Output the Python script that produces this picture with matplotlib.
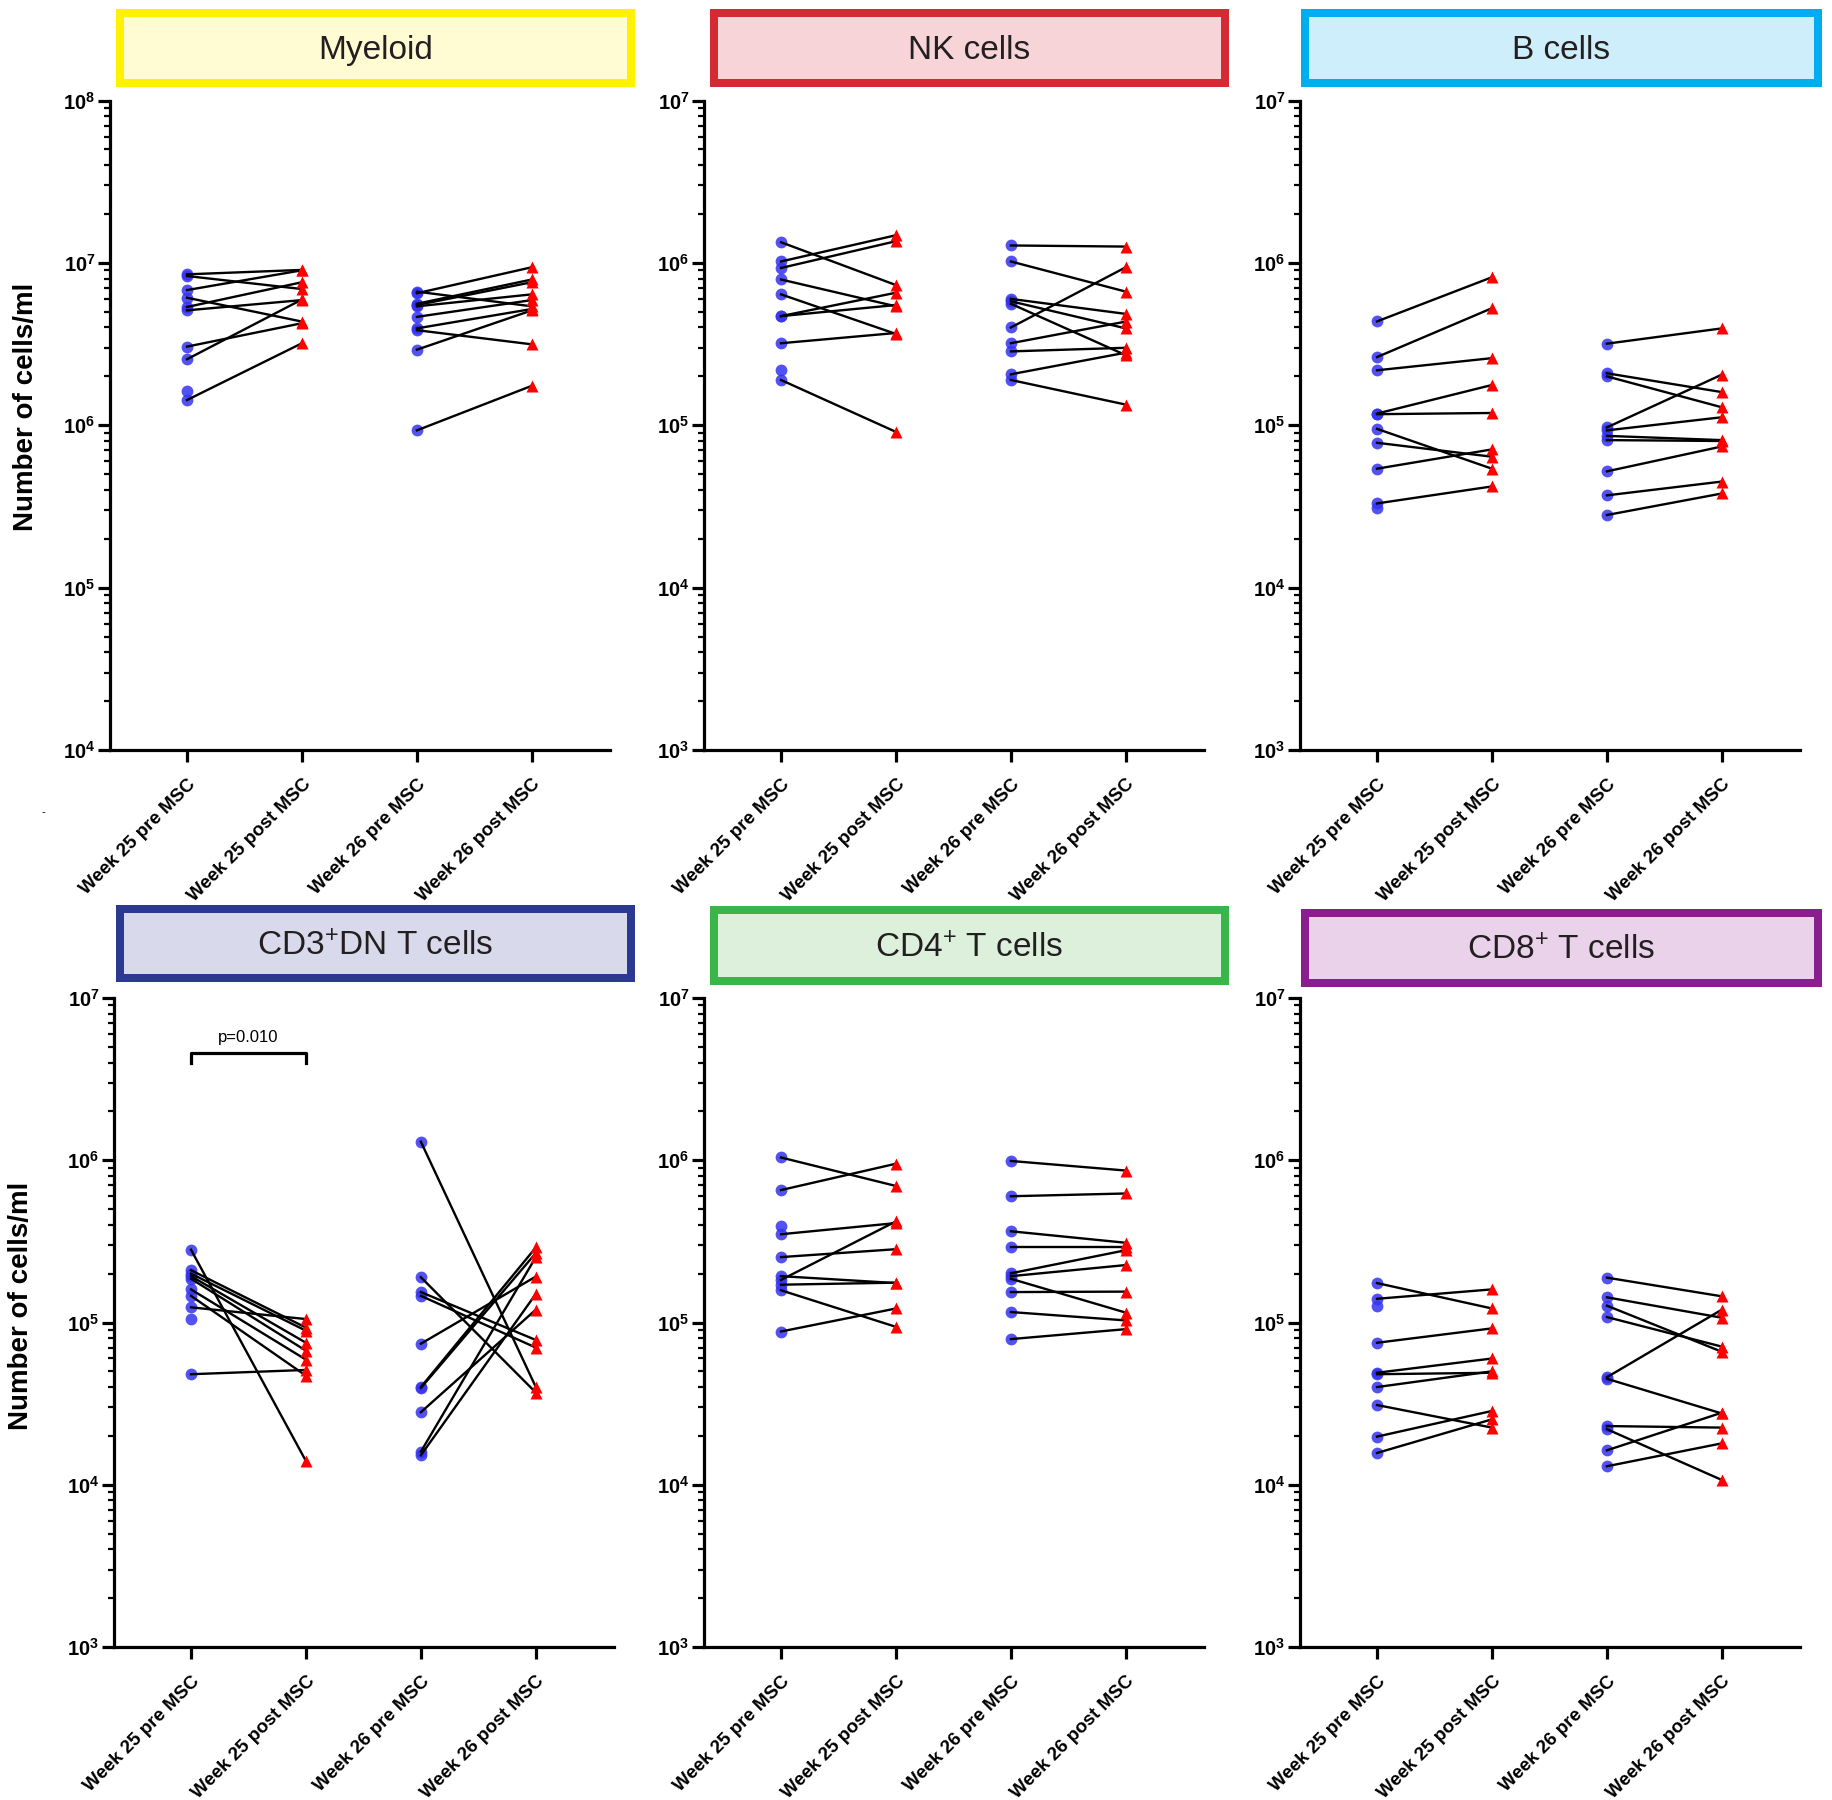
import numpy as np
import matplotlib
matplotlib.use('Agg')
import matplotlib.pyplot as plt
from matplotlib.patches import Rectangle
from matplotlib.ticker import LogLocator, FuncFormatter, NullFormatter

# Шрифты (Arial -> Liberation Sans)
plt.rcParams['font.family'] = ['Liberation Sans', 'DejaVu Sans']
plt.rcParams['mathtext.fontset'] = 'custom'
plt.rcParams['mathtext.rm'] = 'Liberation Sans'
plt.rcParams['mathtext.bf'] = 'Liberation Sans:bold'
plt.rcParams['mathtext.it'] = 'Liberation Sans:italic'

nan = np.nan
groups = ['Week 25 pre MSC', 'Week 25 post MSC', 'Week 26 pre MSC', 'Week 26 post MSC']

# Данные (клеток/мл), пары pre -> post по индексу
myeloid_w25_pre = [8.5e6, 8.3e6, 6.8e6, 5.35e6, 5.1e6, 6.1e6, 3.05e6, 2.55e6, 1.43e6, 1.62e6]
myeloid_w25_post = [9.05e6, 6.9e6, 9.0e6, 7.6e6, 5.9e6, 4.35e6, 4.25e6, 5.95e6, 3.2e6, nan]
myeloid_w26_pre = [6.65e6, 6.5e6, 5.6e6, 5.5e6, 5.4e6, 4.65e6, 3.95e6, 3.85e6, 2.92e6, 0.93e6]
myeloid_w26_post = [5.4e6, 9.4e6, 7.9e6, 7.6e6, 6.4e6, 5.9e6, 5.2e6, 3.15e6, 5.1e6, 1.75e6]

nk_w25_pre = [1.34e6, 1.02e6, 0.93e6, 0.79e6, 0.64e6, 0.47e6, 0.47e6, 0.32e6, 0.19e6, 0.22e6]
nk_w25_post = [0.73e6, 1.48e6, 1.36e6, 0.54e6, 0.365e6, 0.655e6, 0.55e6, 0.37e6, 0.091e6, nan]
nk_w26_pre = [1.28e6, 1.02e6, 0.60e6, 0.58e6, 0.56e6, 0.40e6, 0.32e6, 0.285e6, 0.206e6, 0.19e6]
nk_w26_post = [1.26e6, 0.665e6, 0.485e6, 0.395e6, 0.27e6, 0.94e6, 0.435e6, 0.30e6, 0.28e6, 0.134e6]

b_w25_pre = [4.36e5, 2.63e5, 2.18e5, 1.18e5, 1.17e5, 0.95e5, 0.78e5, 0.54e5, 0.33e5, 0.31e5]
b_w25_post = [8.16e5, 5.26e5, 2.59e5, 1.77e5, 1.19e5, 0.54e5, 0.64e5, 0.71e5, 0.42e5, nan]
b_w26_pre = [3.18e5, 2.09e5, 2.0e5, 0.97e5, 0.93e5, 0.86e5, 0.81e5, 0.52e5, 0.37e5, 0.28e5]
b_w26_post = [3.95e5, 1.6e5, 1.29e5, 2.05e5, 1.12e5, 0.81e5, 0.80e5, 0.74e5, 0.45e5, 0.38e5]

dn_w25_pre = [2.81e5, 2.1e5, 2.0e5, 1.93e5, 1.86e5, 1.6e5, 1.46e5, 1.24e5, 0.48e5, 1.05e5]
dn_w25_post = [0.14e5, 0.93e5, 0.89e5, 0.75e5, 0.67e5, 0.59e5, 0.47e5, 1.05e5, 0.51e5, nan]
dn_w26_pre = [13e5, 1.9e5, 1.54e5, 1.46e5, 0.74e5, 0.40e5, 0.395e5, 0.28e5, 0.16e5, 0.152e5]
dn_w26_post = [0.40e5, 0.37e5, 0.78e5, 0.70e5, 1.92e5, 2.9e5, 2.68e5, 1.2e5, 2.53e5, 1.5e5]

cd4_w25_pre = [1.04e6, 0.655e6, 0.396e6, 0.35e6, 0.253e6, 0.193e6, 0.183e6, 0.171e6, 0.158e6, 0.088e6]
cd4_w25_post = [0.694e6, 0.952e6, nan, 0.41e6, 0.283e6, 0.175e6, 0.42e6, 0.176e6, 0.094e6, 0.122e6]
cd4_w26_pre = [0.99e6, 0.60e6, 0.365e6, 0.29e6, 0.201e6, 0.193e6, 0.186e6, 0.154e6, 0.116e6, 0.079e6]
cd4_w26_post = [0.864e6, 0.624e6, 0.31e6, 0.29e6, 0.279e6, 0.226e6, 0.115e6, 0.155e6, 0.103e6, 0.091e6]

cd8_w25_pre = [1.75e5, 1.4e5, 1.26e5, 0.75e5, 0.49e5, 0.48e5, 0.40e5, 0.31e5, 0.198e5, 0.157e5]
cd8_w25_post = [1.22e5, 1.6e5, nan, 0.92e5, 0.60e5, 0.49e5, 0.50e5, 0.225e5, 0.285e5, 0.253e5]
cd8_w26_pre = [1.89e5, 1.43e5, 1.27e5, 1.08e5, 0.46e5, 0.45e5, 0.23e5, 0.22e5, 0.163e5, 0.13e5]
cd8_w26_post = [1.45e5, 1.07e5, 0.66e5, 0.71e5, 1.2e5, 0.275e5, 0.225e5, 0.107e5, 0.278e5, 0.18e5]

W, H = 1832, 1800
fig = plt.figure(figsize=(W / 100, H / 100), dpi=100)

# панели: заголовок, данные, пределы оси, позиция (px), рамка заголовка, цвета
panels = [
    ('Myeloid', (myeloid_w25_pre, myeloid_w25_post, myeloid_w26_pre, myeloid_w26_post),
     (1e4, 1e8), (110, 100.5, 750), (115.5, 8.6, 635, 87), '#FFF200', '#FFFCD3'),
    ('NK cells', (nk_w25_pre, nk_w25_post, nk_w26_pre, nk_w26_post),
     (1e3, 1e7), (704, 100.5, 750), (710, 8.6, 1229, 87), '#D42A33', '#F6D4D7'),
    ('B cells', (b_w25_pre, b_w25_post, b_w26_pre, b_w26_post),
     (1e3, 1e7), (1300, 100.5, 750), (1301, 8.6, 1822, 87), '#00AEEF', '#CDEEFA'),
    ('CD3$^{+}$DN T cells', (dn_w25_pre, dn_w25_post, dn_w26_pre, dn_w26_post),
     (1e3, 1e7), (114, 998, 1647), (115.5, 904.6, 635, 982), '#2B3990', '#D8DAEB'),
    ('CD4$^{+}$ T cells', (cd4_w25_pre, cd4_w25_post, cd4_w26_pre, cd4_w26_post),
     (1e3, 1e7), (704, 998, 1647), (710, 906, 1229, 985), '#3AB54A', '#DCF0DC'),
    ('CD8$^{+}$ T cells', (cd8_w25_pre, cd8_w25_post, cd8_w26_pre, cd8_w26_post),
     (1e3, 1e7), (1300, 998, 1647), (1301, 908.6, 1822, 987), '#8B1E8E', '#E9D2EA'),
]

box_lw = 8 * 0.72
for title, data, ylim, pos, box, ec, fc in panels:
    left, top, bottom = pos
    ax = fig.add_axes([left / W, 1 - bottom / H, 500 / W, (bottom - top) / H])

    # линии между парами и маркеры
    for k in range(2):
        pre = np.array(data[2 * k], dtype=float)
        post = np.array(data[2 * k + 1], dtype=float)
        xa, xb = 2 * k, 2 * k + 1
        n = len(pre)
        ax.plot(np.vstack([np.full(n, xa), np.full(n, xb)]), np.vstack([pre, post]),
                color='black', lw=1.7, zorder=2)
        ax.plot(np.full(n, xa), pre, 'o', color='#3434F0', alpha=0.85, ms=8.5,
                mec='none', zorder=1)
        ax.plot(np.full(n, xb), post, '^', color='#FF0000', ms=8.5, mec='none', zorder=3)

    ax.set_yscale('log')
    ax.set_ylim(*ylim)
    ax.set_xlim(-0.67, 3.68)
    for s in ['top', 'right']:
        ax.spines[s].set_visible(False)
    for s in ['left', 'bottom']:
        ax.spines[s].set_linewidth(2.3)

    ax.set_xticks(range(4))
    ax.set_xticklabels(groups, rotation=45, ha='right', rotation_mode='anchor',
                       fontweight='bold', fontsize=13.5)
    ax.tick_params(axis='x', length=8.5, width=2.3, pad=10)
    ax.yaxis.set_major_locator(LogLocator(base=10, numticks=10))
    ax.yaxis.set_minor_locator(LogLocator(base=10, subs=np.arange(2, 10), numticks=100))
    ax.yaxis.set_major_formatter(FuncFormatter(lambda v, p: r'$\mathbf{10^{%d}}$' % round(np.log10(v))))
    ax.yaxis.set_minor_formatter(NullFormatter())
    ax.tick_params(axis='y', which='major', length=8.5, width=2.3, pad=2, labelsize=14.5)
    ax.tick_params(axis='y', which='minor', length=4.5, width=1.6)

    # рамка с заголовком
    x0, y0, x1, y1 = box
    h = 4
    rect = Rectangle(((x0 + h) / W, 1 - (y1 - h) / H), (x1 - x0 - 2 * h) / W, (y1 - y0 - 2 * h) / H,
                     transform=fig.transFigure, facecolor=fc, edgecolor=ec, lw=box_lw)
    fig.add_artist(rect)
    fig.text((x0 + x1) / 2 / W, 1 - ((y0 + y1) / 2 + 3) / H, title, ha='center', va='center',
             fontsize=24, color='#231F20')

    if title.startswith('CD3'):
        ax.plot([0, 0, 1, 1], [4.0e6, 4.6e6, 4.6e6, 4.0e6], color='black', lw=2.3)
        ax.text(0.5, 5.1e6, 'p=0.010', ha='center', va='bottom', fontsize=12)

# подписи оси Y
fig.text(25.7 / W, 1 - 407 / H, 'Number of cells/ml', rotation=90, ha='center', va='center',
         fontsize=20, fontweight='bold')
fig.text(21 / W, 1 - 1306 / H, 'Number of cells/ml', rotation=90, ha='center', va='center',
         fontsize=20, fontweight='bold')
fig.text(43 / W, 1 - 812 / H, '-', ha='center', va='center', fontsize=8)

fig.savefig('out.png', dpi=100)
